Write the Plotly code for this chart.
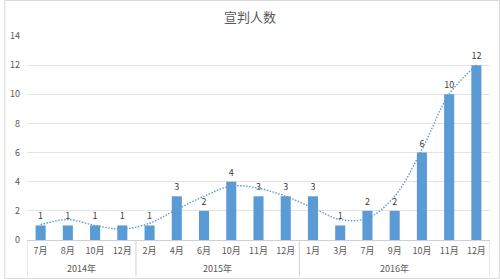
import plotly.graph_objects as go

years = ["2014年", "2015年", "2016年"]
year_sizes = [4, 6, 7]
months = ["7月", "8月", "10月", "12月",
          "2月", "4月", "6月", "10月", "11月", "12月",
          "1月", "3月", "7月", "9月", "10月", "11月", "12月"]
counts = [1, 1, 1, 1, 1, 3, 2, 4, 3, 3, 3, 1, 2, 2, 6, 10, 12]
trend = [1.05, 1.4, 1.0, 0.75, 1.15, 2.1, 3.0, 3.7, 3.55, 3.0, 2.2, 1.4, 1.5, 3.0, 6.2, 10.0, 12.0]
title = "宣判人数"

BLUE = "#5B9BD5"
FONT = "Noto Sans CJK SC, Noto Sans, sans-serif"

xs = list(range(len(months)))

fig = go.Figure()
fig.add_trace(go.Bar(
    x=xs, y=counts, marker_color=BLUE, marker_line_width=0,
    width=0.37, text=counts, textposition="outside",
    textfont=dict(size=9, color="#404040", family=FONT), cliponaxis=False,
))
fig.add_trace(go.Scatter(
    x=xs, y=trend, mode="lines",
    line=dict(color=BLUE, width=1.4, dash="1.5px,1.5px", shape="spline", smoothing=1.0),
    hoverinfo="skip",
))

ml, mr, mt, mb = 23, 10, 36, 39
W, H = 500, 279
pw, ph = W - ml - mr, H - mt - mb

shapes = [dict(type="rect", xref="paper", yref="paper",
               x0=-ml / pw + 0.5 / pw, x1=1 + (mr - 0.5) / pw,
               y0=-mb / ph + 0.5 / ph, y1=1 + (mt - 0.5) / ph,
               line=dict(color="#d9d9d9", width=1))]
annotations = []
start = 0
bounds = [-0.5]
for yr, n in zip(years, year_sizes):
    annotations.append(dict(x=start + (n - 1) / 2, xref="x", y=-28.5 / ph, yref="paper",
                            text=yr, showarrow=False, yanchor="middle",
                            font=dict(size=9, color="#595959", family=FONT)))
    start += n
    bounds.append(start - 0.5)
for b in bounds:
    shapes.append(dict(type="line", xref="x", yref="paper", x0=b, x1=b,
                       y0=0, y1=-36 / ph, line=dict(color="#d0d0d0", width=1)))

fig.update_layout(
    width=W, height=H, margin=dict(l=ml, r=mr, t=mt, b=mb),
    paper_bgcolor="white", plot_bgcolor="white", showlegend=False,
    font=dict(family=FONT, color="#595959", size=9),
    title=dict(text=title, x=0.5, xanchor="center", y=1 - 17 / H, yanchor="middle",
               font=dict(size=13, color="#595959", family=FONT)),
    shapes=shapes, annotations=annotations,
)
fig.update_yaxes(range=[0, 14], dtick=2, gridcolor="#e3e3e3", gridwidth=1,
                 zeroline=False, showline=False, ticks="",
                 tickfont=dict(size=9, color="#595959"), ticklabelstandoff=6)
fig.update_xaxes(range=[-0.5, len(months) - 0.5], tickmode="array", tickvals=xs,
                 ticktext=months, showgrid=False, zeroline=False,
                 showline=True, linecolor="#d0d0d0", linewidth=1,
                 ticks="", tickfont=dict(size=9, color="#595959"),
                 ticklabelstandoff=2)

fig.write_html("out.html")
